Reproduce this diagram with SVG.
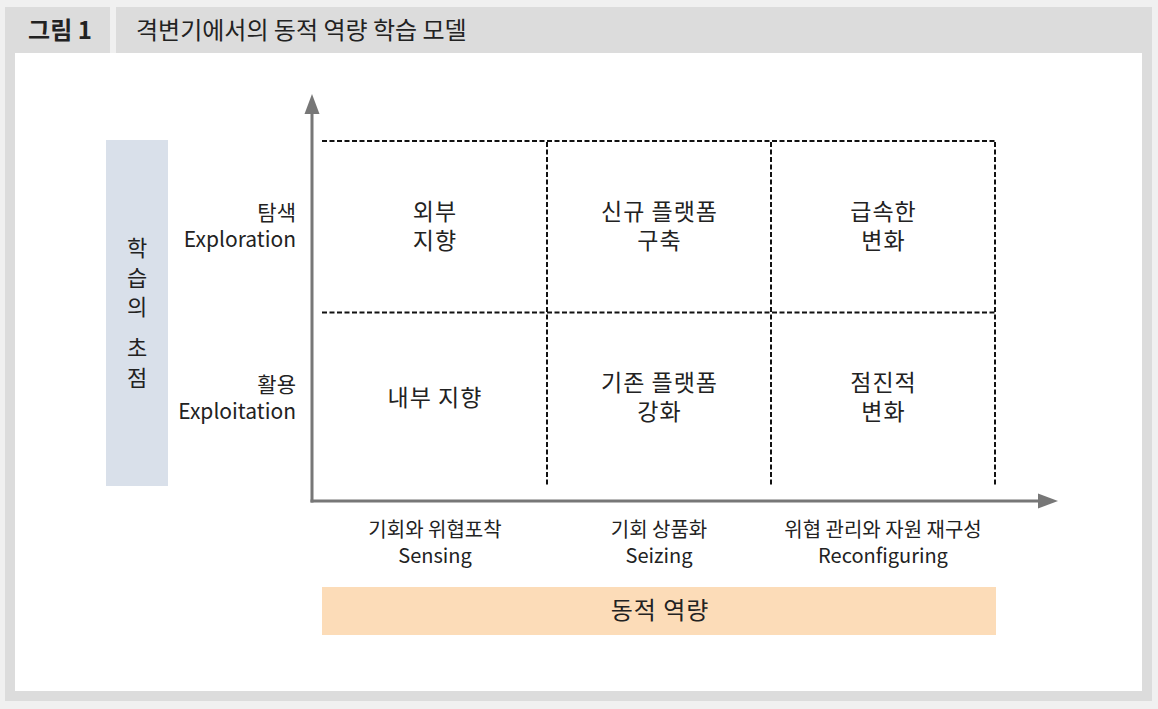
<svg xmlns="http://www.w3.org/2000/svg" width="1158" height="709" viewBox="0 0 1158 709">
  <defs>
    <style>
      text { font-family: "Noto Sans CJK KR", "Noto Sans", sans-serif; fill: #222; }
      .cell { font-size: 23px; letter-spacing: 1px; text-anchor: middle; }
      .ylab { font-size: 21px; text-anchor: end; }
      .xlab { font-size: 20px; text-anchor: middle; }
      .vert { font-size: 22px; text-anchor: middle; }
      .grid { stroke: #111; stroke-width: 2; stroke-dasharray: 5 2.5; fill: none; }
      .axis { stroke: #777; stroke-width: 3; fill: none; }
      .head { fill: #777; }
    </style>
  </defs>

  <!-- frame -->
  <rect x="0" y="0" width="1158" height="709" fill="#f0f0f0"/>
  <rect x="5" y="7" width="1147" height="694" fill="#dcdcdc"/>
  <rect x="110" y="7" width="6" height="46" fill="#f0f0f0"/>
  <rect x="15" y="53" width="1127" height="638" fill="#ffffff"/>
  <text x="60" y="39" style="font-size:24px;font-weight:bold;text-anchor:middle">그림 1</text>
  <text x="136" y="39" style="font-size:24px">격변기에서의 동적 역량 학습 모델</text>

  <!-- side label -->
  <g id="focus">
    <rect x="106" y="140" width="62" height="346" fill="#d9e0ea"/>
    <text class="vert"><tspan x="137" y="256">학</tspan><tspan x="137" y="286">습</tspan><tspan x="137" y="315">의</tspan><tspan x="137" y="356">초</tspan><tspan x="137" y="386">점</tspan></text>
  </g>

  <g id="y-labels">
    <text class="ylab"><tspan x="296" y="220">탐색</tspan><tspan x="296" y="247">Exploration</tspan></text>
    <text class="ylab"><tspan x="296" y="392">활용</tspan><tspan x="296" y="419">Exploitation</tspan></text>
  </g>

  <!-- connectors: axes and grid -->
  <g id="connectors">
    <line class="axis" x1="312" y1="502.5" x2="312" y2="110"/>
    <polygon class="head" points="312,94 319.5,114 304.5,114"/>
    <line class="axis" x1="310.5" y1="501" x2="1042" y2="501"/>
    <polygon class="head" points="1058,501 1038,493.5 1038,508.5"/>
    <line class="grid" x1="322" y1="141" x2="996" y2="141"/>
    <line class="grid" x1="322" y1="312.5" x2="996" y2="312.5"/>
    <line class="grid" x1="547" y1="142" x2="547" y2="486"/>
    <line class="grid" x1="771" y1="142" x2="771" y2="486"/>
    <line class="grid" x1="995" y1="142" x2="995" y2="486"/>
  </g>

  <g id="cell-external">
    <text class="cell"><tspan x="435" y="220">외부</tspan><tspan x="435" y="249">지향</tspan></text>
  </g>
  <g id="cell-new-platform">
    <text class="cell"><tspan x="659.5" y="220">신규 플랫폼</tspan><tspan x="659.5" y="249">구축</tspan></text>
  </g>
  <g id="cell-rapid">
    <text class="cell"><tspan x="883.5" y="220">급속한</tspan><tspan x="883.5" y="249">변화</tspan></text>
  </g>
  <g id="cell-internal">
    <text class="cell" x="435" y="406">내부 지향</text>
  </g>
  <g id="cell-existing-platform">
    <text class="cell"><tspan x="659.5" y="391">기존 플랫폼</tspan><tspan x="659.5" y="420">강화</tspan></text>
  </g>
  <g id="cell-gradual">
    <text class="cell"><tspan x="883.5" y="391">점진적</tspan><tspan x="883.5" y="420">변화</tspan></text>
  </g>

  <g id="x-labels">
    <text class="xlab"><tspan x="435" y="537">기회와 위협포착</tspan><tspan x="435" y="563">Sensing</tspan></text>
    <text class="xlab"><tspan x="659" y="537">기회 상품화</tspan><tspan x="659" y="563">Seizing</tspan></text>
    <text class="xlab"><tspan x="883" y="537">위협 관리와 자원 재구성</tspan><tspan x="883" y="563">Reconfiguring</tspan></text>
  </g>

  <g id="dynamic-capability">
    <rect x="322" y="587" width="674" height="48" fill="#fcdcb8"/>
    <text x="660" y="619" style="font-size:24px;letter-spacing:1px;text-anchor:middle">동적 역량</text>
  </g>
</svg>
